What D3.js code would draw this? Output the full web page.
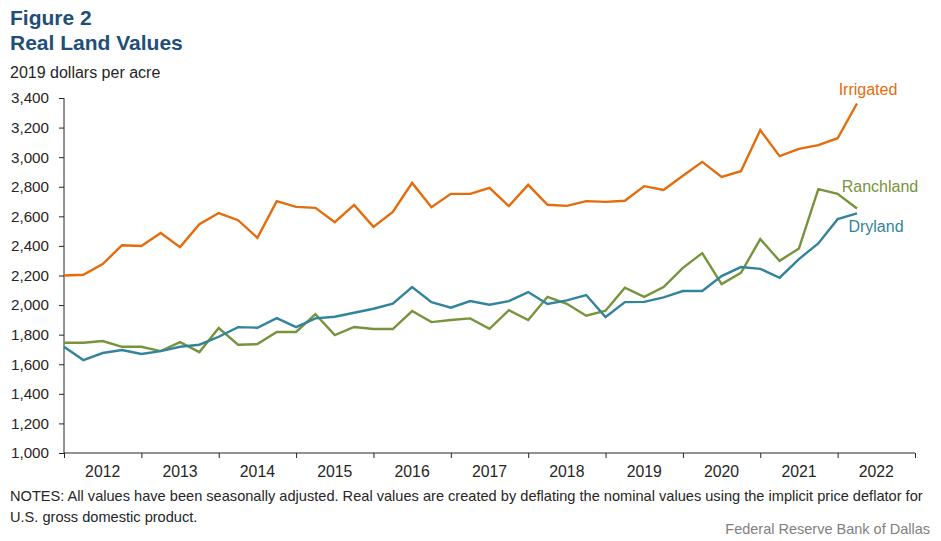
<!DOCTYPE html>
<html lang="en">
  <head>
    <meta charset="UTF-8" />
    <title>Real Land Values</title>
    <script src="https://d3js.org/d3.v7.min.js"></script>
    <style>
      body {
        margin: 0;
        padding: 0;
        background: #fff;
      }
      svg text {
        font-family: "Liberation Sans", Arial, sans-serif;
      }
    </style>
  </head>
  <body>
    <div id="chart"></div>
    <script>
      const width = 941;
      const height = 541;

      // quarterly, 2012 Q1 .. 2022 Q2
      const startYear = 2012;
      const years = [2012, 2013, 2014, 2015, 2016, 2017, 2018, 2019, 2020, 2021, 2022];
      const yTicks = [1000, 1200, 1400, 1600, 1800, 2000, 2200, 2400, 2600, 2800, 3000, 3200, 3400];

      const irrigated = [
        2200, 2205, 2277, 2405, 2400, 2487, 2392, 2547, 2622, 2574, 2455, 2703, 2664, 2657, 2561, 2677,
        2529, 2630, 2826, 2662, 2752, 2752, 2793, 2669, 2813, 2678, 2671, 2703, 2698, 2705, 2804, 2779,
        2874, 2968, 2867, 2905, 3183, 3007, 3056, 3081, 3128, 3363
      ];
      const dryland = [
        1718, 1628, 1676, 1696, 1669, 1689, 1718, 1732, 1786, 1851, 1847, 1912, 1851, 1910, 1921, 1948,
        1975, 2009, 2122, 2020, 1982, 2027, 2002, 2027, 2088, 2007, 2032, 2068, 1919, 2020, 2022, 2052,
        2095, 2095, 2196, 2257, 2245, 2185, 2311, 2417, 2581, 2620
      ];
      const ranchland = [
        1745, 1745, 1757, 1718, 1718, 1689, 1750, 1682, 1845, 1732, 1736, 1818, 1818, 1939, 1797, 1852,
        1838, 1838, 1960, 1885, 1899, 1910, 1840, 1966, 1899, 2056, 2009, 1928, 1962, 2117, 2056, 2122,
        2252, 2351, 2142, 2218, 2446, 2299, 2383, 2784, 2752, 2653
      ];

      const series = [
        { name: "Irrigated", values: irrigated, color: "#e46c0a", labelX: 868, labelY: 95 },
        { name: "Ranchland", values: ranchland, color: "#77933c", labelX: 880, labelY: 192 },
        { name: "Dryland", values: dryland, color: "#31849b", labelX: 876, labelY: 232 },
      ];

      const margin = { top: 98, right: 26, bottom: 88, left: 64 };

      const svg = d3.select("#chart").append("svg").attr("width", width).attr("height", height);

      const x = d3
        .scaleLinear()
        .domain([startYear, 2023])
        .range([margin.left, width - margin.right]);

      const y = d3
        .scaleLinear()
        .domain([1000, 3400])
        .range([height - margin.bottom, margin.top]);

      // titles
      svg.append("text").attr("x", 10).attr("y", 25).attr("fill", "#1f4e79").attr("font-size", 21).attr("font-weight", "bold").text("Figure 2");
      svg.append("text").attr("x", 10).attr("y", 50).attr("fill", "#1f4e79").attr("font-size", 21).attr("font-weight", "bold").text("Real Land Values");
      svg.append("text").attr("x", 10).attr("y", 78).attr("fill", "#262626").attr("font-size", 16).text("2019 dollars per acre");

      // y axis
      const yAxis = svg
        .append("g")
        .attr("transform", `translate(${margin.left},0)`)
        .call(d3.axisLeft(y).tickValues(yTicks).tickSize(5).tickPadding(10).tickFormat(d3.format(",")));
      yAxis.selectAll("text").attr("font-size", 15.2).attr("fill", "#262626").attr("font-family", null);
      yAxis.selectAll("line, path").attr("stroke", "#262626");
      yAxis.select(".domain").attr("d", `M0,${y(1000)}V${y(3400)}`);

      // x axis
      const xAxis = svg
        .append("g")
        .attr("transform", `translate(0,${y(1000)})`)
        .call(d3.axisBottom(x).tickValues(d3.range(startYear, 2024)).tickSize(5).tickFormat(""));
      xAxis.selectAll("line, path").attr("stroke", "#262626");
      xAxis.select(".domain").attr("d", `M${x(startYear)},0H${x(2023)}`);

      svg
        .append("g")
        .selectAll("text")
        .data(years)
        .join("text")
        .attr("x", (d) => x(d + 0.5))
        .attr("y", y(1000) + 23.5)
        .attr("text-anchor", "middle")
        .attr("font-size", 15.8)
        .attr("fill", "#262626")
        .text((d) => d);

      // lines
      const line = d3
        .line()
        .x((d, i) => x(startYear + i / 4))
        .y((d) => y(d));

      svg
        .append("g")
        .selectAll("path")
        .data(series)
        .join("path")
        .attr("d", (d) => line(d.values))
        .attr("fill", "none")
        .attr("stroke", (d) => d.color)
        .attr("stroke-width", 2.4)
        .attr("stroke-linejoin", "miter");

      svg
        .append("g")
        .selectAll("text")
        .data(series)
        .join("text")
        .attr("x", (d) => d.labelX)
        .attr("y", (d) => d.labelY)
        .attr("text-anchor", "middle")
        .attr("font-size", 16)
        .attr("fill", (d) => d.color)
        .text((d) => d.name);

      // notes
      svg.append("text").attr("x", 10).attr("y", 501).attr("font-size", 14.6).attr("fill", "#262626")
        .text("NOTES: All values have been seasonally adjusted. Real values are created by deflating the nominal values using the implicit price deflator for");
      svg.append("text").attr("x", 10).attr("y", 522).attr("font-size", 14.6).attr("fill", "#262626").text("U.S. gross domestic product.");
      svg.append("text").attr("x", 930).attr("y", 534).attr("text-anchor", "end").attr("font-size", 14.5).attr("fill", "#7f7f7f").text("Federal Reserve Bank of Dallas");
    </script>
  </body>
</html>
